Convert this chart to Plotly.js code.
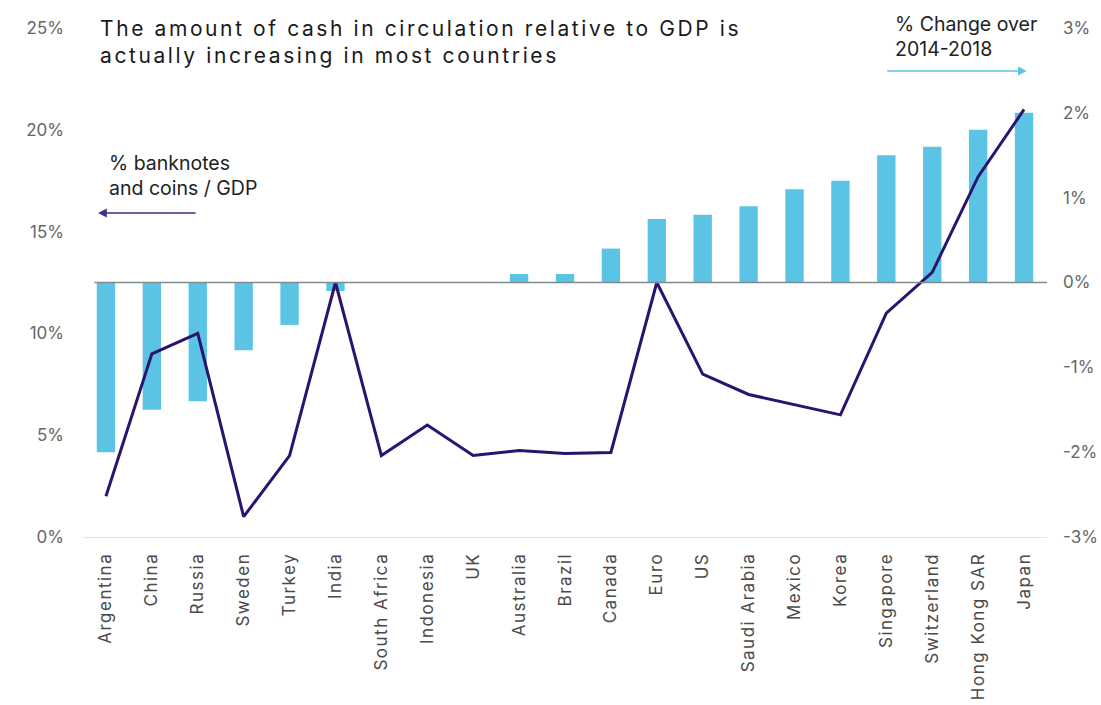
<!DOCTYPE html>
<html>
<head>
<meta charset="utf-8">
<script src="https://cdn.plot.ly/plotly-3.0.1.min.js"></script>
<style>
  html, body { margin: 0; padding: 0; background: #fff; }
  #chart { width: 1101px; height: 705px; }
  .gtitle { letter-spacing: 2.6px; }
  .xtick text { letter-spacing: 1.5px; }
</style>
</head>
<body>
<div id="chart"></div>
<script>
// Categories (countries)
const categories = ['Argentina', 'China', 'Russia', 'Sweden', 'Turkey', 'India', 'South Africa',
  'Indonesia', 'UK', 'Australia', 'Brazil', 'Canada', 'Euro', 'US', 'Saudi Arabia', 'Mexico',
  'Korea', 'Singapore', 'Switzerland', 'Hong Kong SAR', 'Japan'];

// % change over 2014-2018 (bars, right axis)
const changePct = [-2.0, -1.5, -1.4, -0.8, -0.5, -0.1, 0, 0, 0, 0.1, 0.1, 0.4, 0.75, 0.8, 0.9,
  1.1, 1.2, 1.5, 1.6, 1.8, 2.0];

// % banknotes and coins / GDP (line, left axis)
const cashToGdp = [2.0, 9.0, 10.0, 1.0, 4.0, 12.5, 4.0, 5.5, 4.0, 4.25, 4.1, 4.15, 12.5, 8.0, 7.0,
  6.5, 6.0, 11.0, 13.0, 17.7, 21.0];

// Tick labels
const leftTickVals = [0, 5, 10, 15, 20, 25];
const leftTickText = ['0%', '5%', '10%', '15%', '20%', '25%'];
const rightTickVals = [-3, -2, -1, 0, 1, 2, 3];
const rightTickText = ['-3%', '-2%', '-1%', '0%', '1%', '2%', '3%'];

const titleText = 'The amount of cash in circulation relative to GDP is<br>actually increasing in most countries';
const leftLabel = '% banknotes<br>and coins / GDP';
const rightLabel = '% Change over<br>2014-2018';

const barColor = '#5bc4e5';
const lineColor = '#2a1470';
const tickColor = '#666666';

const traces = [
  {
    type: 'bar',
    x: categories,
    y: changePct,
    yaxis: 'y',
    marker: { color: barColor },
    hoverinfo: 'skip'
  },
  {
    type: 'scatter',
    mode: 'lines',
    x: categories,
    y: cashToGdp,
    yaxis: 'y2',
    line: { color: lineColor, width: 3 },
    hoverinfo: 'skip'
  }
];

const layout = {
  width: 1101,
  height: 705,
  margin: { l: 83, r: 54, t: 28, b: 168 },
  paper_bgcolor: '#ffffff',
  plot_bgcolor: '#ffffff',
  showlegend: false,
  bargap: 0.6,
  font: { family: 'Inter, "Noto Sans", sans-serif', color: tickColor },
  title: {
    text: titleText,
    x: 100 / 1101,
    xanchor: 'left',
    xref: 'container',
    y: 1 - 36 / 705,
    yanchor: 'top',
    yref: 'container',
    font: { family: 'Inter, sans-serif', size: 21, color: '#1a1a1a' }
  },
  xaxis: {
    type: 'category',
    range: [-0.5, 20.5],
    tickangle: -90,
    showgrid: false,
    zeroline: false,
    showline: true,
    linecolor: '#e4e4e4',
    linewidth: 1,
    ticks: '',
    ticklabelstandoff: 8,
    tickfont: { family: 'Inter, sans-serif', size: 17, color: '#4a4a4a' }
  },
  yaxis: {
    side: 'right',
    range: [-3, 3],
    tickvals: rightTickVals,
    ticktext: rightTickText,
    showgrid: false,
    zeroline: false,
    ticks: '',
    ticklabelstandoff: 15,
    tickfont: { family: 'Inter, sans-serif', size: 17, color: tickColor }
  },
  yaxis2: {
    side: 'left',
    overlaying: 'y',
    range: [0, 25],
    tickvals: leftTickVals,
    ticktext: leftTickText,
    showgrid: false,
    zeroline: false,
    ticks: '',
    ticklabelstandoff: 18,
    tickfont: { family: 'Inter, sans-serif', size: 17, color: tickColor }
  },
  shapes: [
    {
      type: 'line', xref: 'x', yref: 'y',
      x0: -0.25, x1: 20.5, y0: 0, y1: 0,
      line: { color: '#7f8b8d', width: 1.5 },
      layer: 'above'
    }
  ],
  annotations: [
    {
      xref: 'paper', yref: 'paper',
      x: 0.0246, y: 0.711, xanchor: 'left', yanchor: 'middle', align: 'left',
      text: leftLabel, showarrow: false,
      font: { family: 'Inter, sans-serif', size: 19.5, color: '#222222' }
    },
    {
      xref: 'paper', yref: 'paper',
      x: 0.0156, y: 0.6365, text: '', showarrow: true,
      ax: 99, ay: 0, arrowhead: 2, arrowsize: 1.1, arrowwidth: 1.6, arrowcolor: '#3d2f8c'
    },
    {
      xref: 'paper', yref: 'paper',
      x: 0.840, y: 0.983, xanchor: 'left', yanchor: 'middle', align: 'left',
      text: rightLabel, showarrow: false,
      font: { family: 'Inter, sans-serif', size: 19.5, color: '#222222' }
    },
    {
      xref: 'paper', yref: 'paper',
      x: 0.979, y: 0.9155, text: '', showarrow: true,
      ax: -141, ay: 0, arrowhead: 2, arrowsize: 1.1, arrowwidth: 1.6, arrowcolor: barColor
    }
  ]
};

Plotly.newPlot('chart', traces, layout, { staticPlot: true, displayModeBar: false });
</script>
</body>
</html>
